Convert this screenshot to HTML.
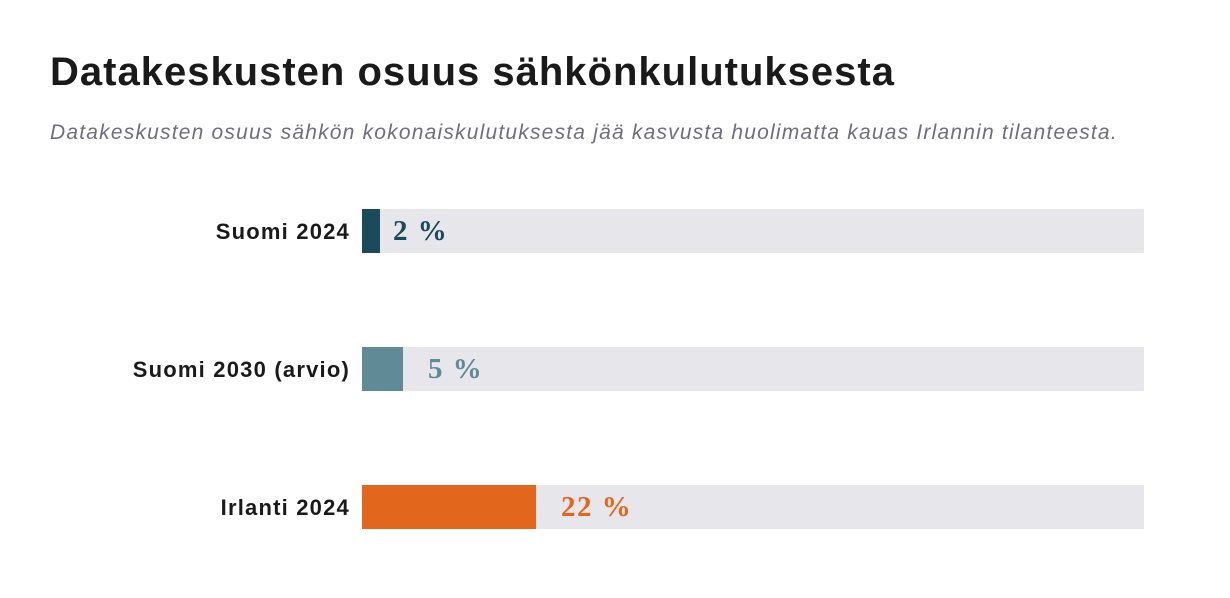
<!DOCTYPE html>
<html><head><meta charset="utf-8"><style>
body{margin:0;width:1230px;height:598px;background:#fff;position:relative;overflow:hidden;font-family:"Liberation Sans",sans-serif}
.t{position:absolute;left:50px;top:50px;font-size:40px;font-weight:bold;color:#1a1a1a;letter-spacing:1px;white-space:nowrap}
.s{position:absolute;left:50px;top:121px;font-size:21px;font-style:italic;color:#6f6f7a;letter-spacing:1.2px;white-space:nowrap}
.l{position:absolute;right:880px;font-size:22px;font-weight:bold;color:#1a1a1a;text-align:right;white-space:nowrap;letter-spacing:1.2px}
.tr{position:absolute;left:362px;width:782px;height:44px;background:#e6e6eb}
.f{position:absolute;left:362px;height:44px}
.v{position:absolute;font-family:"Liberation Serif",serif;font-weight:bold;font-size:29px;letter-spacing:1.5px}
</style></head><body>
<div class="t">Datakeskusten osuus sähkönkulutuksesta</div>
<div class="s">Datakeskusten osuus sähkön kokonaiskulutuksesta jää kasvusta huolimatta kauas Irlannin tilanteesta.</div>

<div class="tr" style="top:209px"></div>
<div class="f" style="top:209px;width:18px;background:#1b4a5a"></div>
<div class="l" style="top:219px">Suomi 2024</div>
<div class="v" style="left:393px;top:215px;color:#1b4a5a">2 %</div>

<div class="tr" style="top:347px"></div>
<div class="f" style="top:347px;width:41px;background:#5f8a96"></div>
<div class="l" style="top:357px">Suomi 2030 (arvio)</div>
<div class="v" style="left:428px;top:353px;color:#5f8a96">5 %</div>

<div class="tr" style="top:485px"></div>
<div class="f" style="top:485px;width:174px;background:#e2661b"></div>
<div class="l" style="top:495px">Irlanti 2024</div>
<div class="v" style="left:561px;top:491px;color:#e2661b">22 %</div>
</body></html>
